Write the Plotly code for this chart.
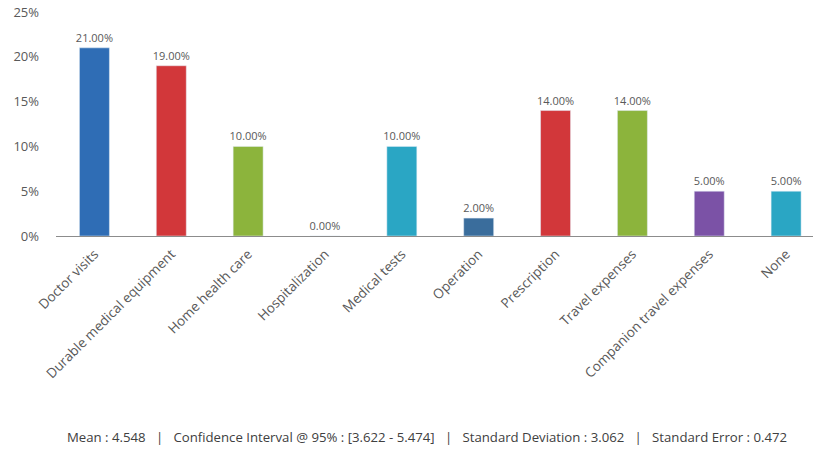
import plotly.graph_objects as go

categories = ["Doctor visits", "Durable medical equipment", "Home health care", "Hospitalization",
              "Medical tests", "Operation", "Prescription", "Travel expenses",
              "Companion travel expenses", "None"]
values = [21, 19, 10, 0, 10, 2, 14, 14, 5, 5]
colors = ["#2f6db5", "#d2373a", "#8cb43c", "#7f5aa8", "#2aa6c4", "#3a6d9c",
          "#d2373a", "#8cb43c", "#7b52a6", "#2aa6c4"]
labels = [f"{v:.2f}%" for v in values]
sep = "&nbsp;&nbsp;&nbsp;|&nbsp;&nbsp;&nbsp;"
footer = sep.join(["Mean : 4.548", "Confidence Interval @ 95% : [3.622 - 5.474]",
                   "Standard Deviation : 3.062", "Standard Error : 0.472"])

fig = go.Figure(go.Bar(
    x=categories, y=values, marker_color=colors, width=0.39,
    text=labels, textposition="outside", cliponaxis=False, constraintext="none",
    textfont=dict(size=11, color="#595959"),
))
fig.update_layout(
    width=813, height=452, margin=dict(l=56, r=0, t=12, b=216),
    paper_bgcolor="white", plot_bgcolor="white", showlegend=False,
    font=dict(family="Open Sans, Lato, sans-serif", color="#595959"),
    xaxis=dict(range=[-0.5, 9.35], tickangle=-45, showgrid=False, showline=True, automargin=False,
               ticklabelstandoff=4,
               linecolor="#8c8c8c", linewidth=1, ticks="", tickfont=dict(size=13.5, color="#595959")),
    yaxis=dict(range=[0, 25], dtick=5, ticksuffix="%", showgrid=False, zeroline=False, automargin=False,
               ticklabelstandoff=16, ticklabeloverflow="allow", tickfont=dict(size=13, color="#595959")),
    annotations=[dict(text=footer, x=0.49, xref="paper", y=-(201 / 224), yref="paper",
                      yanchor="middle", showarrow=False, font=dict(size=13.2, color="#404040"))],
)
fig.write_html("out.html", config={"displayModeBar": False},
               post_script="document.body.style.margin='0';document.body.style.overflow='hidden';")
